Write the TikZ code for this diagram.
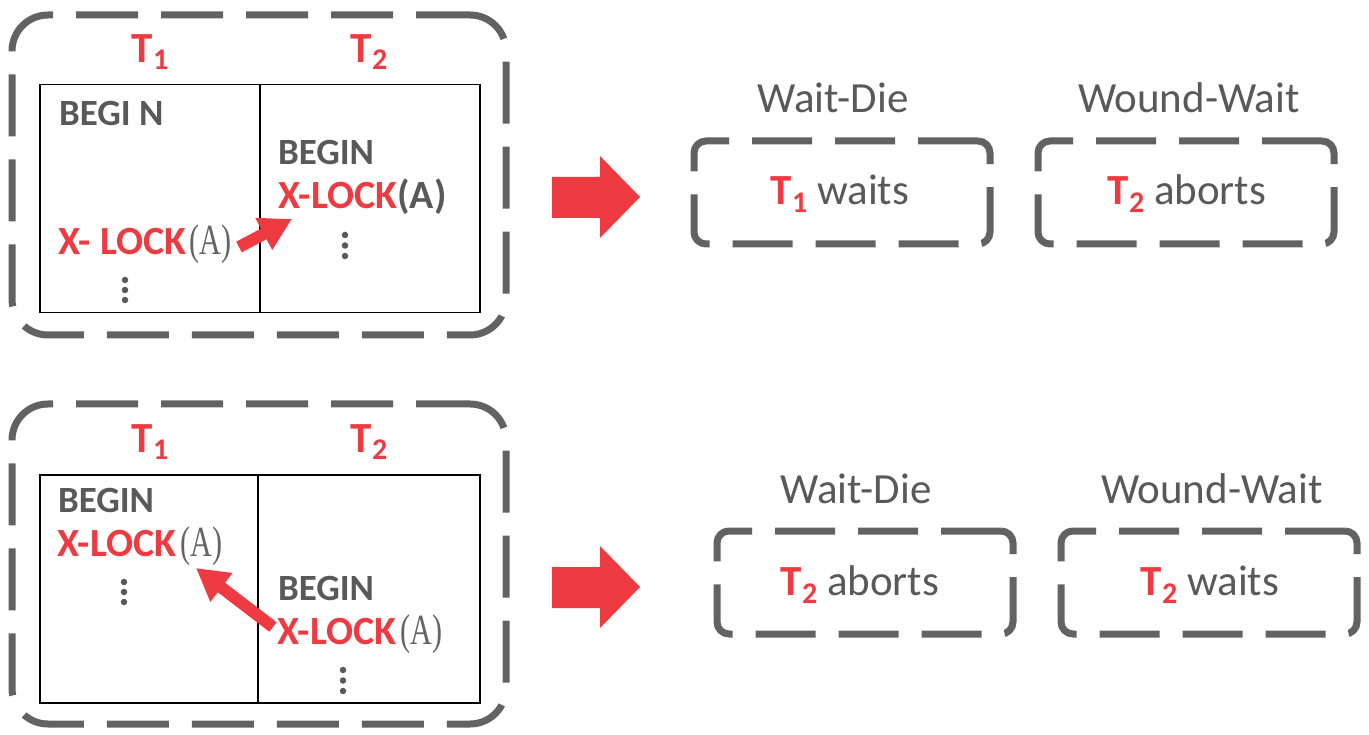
\documentclass[tikz,border=0pt]{standalone}
\usepackage{fontspec}
\usepackage{graphicx}
\setmainfont{Carlito}
\newfontfamily\serifA{Liberation Serif}
\usetikzlibrary{arrows.meta}
\definecolor{myred}{RGB}{238,59,66}
\definecolor{txtgray}{RGB}{89,89,89}
\definecolor{dashgray}{RGB}{98,98,98}
\definecolor{sgray}{RGB}{100,100,100}
\newcommand\myfs[1]{\fontsize{#1}{#1}\selectfont}
\newcommand\Tsub[3]{{\bfseries\color{myred}T\raisebox{-#2pt}{\myfs{#3}#1}}}
\newcommand\serifparen{{\color{sgray}\serifA\mdseries\myfs{43}\scalebox{0.7}[1]{(A)}}}
\begin{document}
\begin{tikzpicture}[x=1pt,y=-1pt,
  txt/.style={inner sep=0pt, outer sep=0pt, text=txtgray},
  outerbox/.style={draw=dashgray, line width=7pt, dash pattern=on 62pt off 23pt, dash phase=8pt, rounded corners=36pt, inner sep=0pt},
  smallbox/.style={draw=dashgray, line width=7pt, dash pattern=on 60pt off 23pt, rounded corners=12pt, inner sep=0pt, minimum width=296pt, minimum height=103pt},
  cell/.style={draw=black, line width=1.5pt, inner sep=0pt, anchor=north west},
  smallarrow/.style={draw=myred, line width=12pt, -{Triangle[length=32pt,width=34pt]}},
  bigarrow/.style={fill=myred, draw=none},
  dot/.style={circle, fill=txtgray, inner sep=0pt, minimum size=6.5pt}
]
\useasboundingbox (0,0) rectangle (1369,735);

% ---------- top panel ----------
\node[outerbox, minimum width=494pt, minimum height=320pt] (outer1) at (259,175) {};
\node[cell, minimum width=220pt, minimum height=228pt] (c11) at (39,84) {};
\node[cell, minimum width=220pt, minimum height=228pt] (c12) at (259,84) {};
\node[txt, anchor=base] (t11) at (150,63) {\myfs{43}\Tsub{1}{7}{30}};
\node[txt, anchor=base] (t12) at (369,63) {\myfs{43}\Tsub{2}{7}{30}};
\node[txt, anchor=base west] (b11) at (59,126) {\bfseries\myfs{37}BEGI N};
\node[txt, anchor=base west] (x11) at (58,255) {\bfseries\myfs{40}{\color{myred}X- LOCK}\hspace{3pt}\serifparen};
\node[dot] (d11a) at (125,280) {};
\node[dot] (d11b) at (125,290) {};
\node[dot] (d11c) at (125,300) {};
\node[txt, anchor=base west] (b12) at (278,165) {\bfseries\myfs{37}BEGIN};
\node[txt, anchor=base west] (x12) at (278,209) {\bfseries\myfs{40}{\color{myred}X-LOCK}(A)};
\node[dot] (d12a) at (345,235) {};
\node[dot] (d12b) at (345,245.5) {};
\node[dot] (d12c) at (345,256) {};
\coordinate (a1s) at (239,247);
\coordinate (a1e) at (292,219);
\draw[smallarrow] (a1s) -- (a1e);

\fill[bigarrow] (552,177) -- (600,177) -- (600,156) -- (640,197) -- (600,238) -- (600,218) -- (552,218) -- cycle;

\node[txt, anchor=base] (wd1) at (833,113) {\myfs{43}Wait-Die};
\node[smallbox] (wdb1) at (842,192.5) {};
\node[txt, anchor=base] (wdt1) at (840,205) {\myfs{43}\Tsub{1}{8}{30} waits};
\node[txt, anchor=base] (ww1) at (1189,113) {\myfs{43}Wound-Wait};
\node[smallbox] (wwb1) at (1186,192.5) {};
\node[txt, anchor=base] (wwt1) at (1187,205) {\myfs{43}\Tsub{2}{8}{30} aborts};

% ---------- bottom panel ----------
\node[outerbox, minimum width=494pt, minimum height=320pt] (outer2) at (259,564) {};
\node[cell, minimum width=218pt, minimum height=228pt] (c21) at (39,474) {};
\node[cell, minimum width=222pt, minimum height=228pt] (c22) at (257,474) {};
\node[txt, anchor=base] (t21) at (150,452) {\myfs{43}\Tsub{1}{7}{30}};
\node[txt, anchor=base] (t22) at (369,452) {\myfs{43}\Tsub{2}{7}{30}};
\node[txt, anchor=base west] (b21) at (58,512) {\bfseries\myfs{37}BEGIN};
\node[txt, anchor=base west] (x21) at (57,556) {\bfseries\myfs{40}{\color{myred}X-LOCK}\hspace{4pt}\serifparen};
\node[dot] (d21a) at (124,582) {};
\node[dot] (d21b) at (124,592) {};
\node[dot] (d21c) at (124,602) {};
\node[txt, anchor=base west] (b22) at (278,600) {\bfseries\myfs{37}BEGIN};
\node[txt, anchor=base west] (x22) at (277,644) {\bfseries\myfs{40}{\color{myred}X-LOCK}\hspace{4pt}\serifparen};
\node[dot] (d22a) at (343,670) {};
\node[dot] (d22b) at (343,680.5) {};
\node[dot] (d22c) at (343,691) {};
\coordinate (a2s) at (273,627);
\coordinate (a2e) at (196,568);
\draw[smallarrow] (a2s) -- (a2e);

\fill[bigarrow] (552,567) -- (600,567) -- (600,546) -- (640,587) -- (600,628) -- (600,608) -- (552,608) -- cycle;

\node[txt, anchor=base] (wd2) at (856,503) {\myfs{43}Wait-Die};
\node[smallbox] (wdb2) at (865,582.5) {};
\node[txt, anchor=base] (wdt2) at (860,595) {\myfs{43}\Tsub{2}{8}{30} aborts};
\node[txt, anchor=base] (ww2) at (1212,503) {\myfs{43}Wound-Wait};
\node[smallbox] (wwb2) at (1209,582.5) {};
\node[txt, anchor=base] (wwt2) at (1210,595) {\myfs{43}\Tsub{2}{8}{30} waits};
\end{tikzpicture}
\end{document}
